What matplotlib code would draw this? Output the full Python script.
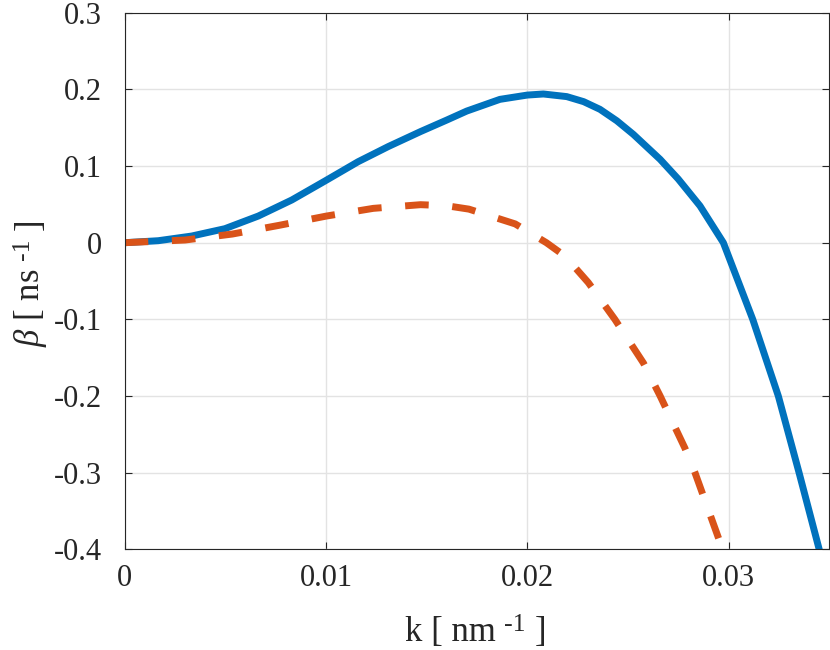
import matplotlib
matplotlib.use('Agg')
import matplotlib.pyplot as plt

# Datos (k en nm^-1, beta en ns^-1)
k_azul = [0.0, 0.00167, 0.00333, 0.00498, 0.00664, 0.0083, 0.00995, 0.0116,
          0.0131, 0.0147, 0.0160, 0.01699, 0.01864, 0.0200, 0.0208, 0.02196,
          0.0228, 0.02361, 0.02445, 0.02527, 0.0266, 0.0275, 0.02858, 0.02974,
          0.0312, 0.03247, 0.0335, 0.0345, 0.0350]
beta_azul = [0.0, 0.0026, 0.0087, 0.0183, 0.0348, 0.0557, 0.0805, 0.1057,
             0.1255, 0.145, 0.160, 0.1717, 0.187, 0.1926, 0.194, 0.1906,
             0.184, 0.174, 0.159, 0.1413, 0.1087, 0.083, 0.048, 0.0,
             -0.100, -0.200, -0.300, -0.400, -0.45]

k_naranja = [0.0, 0.0030, 0.00535, 0.00768, 0.01003, 0.01235, 0.0147, 0.0160,
             0.0171, 0.0194, 0.02095, 0.02187, 0.02303, 0.02435, 0.02577,
             0.0266, 0.02783, 0.02833, 0.0297, 0.0300]
beta_naranja = [0.0, 0.0035, 0.0113, 0.0227, 0.0348, 0.0448, 0.0496, 0.0482,
                0.0438, 0.0245, 0.0, -0.0174, -0.052, -0.100, -0.157,
                -0.200, -0.268, -0.300, -0.400, -0.425]

xticks = [0, 0.01, 0.02, 0.03]
xtick_labels = ['0', '0.01', '0.02', '0.03']
yticks = [-0.4, -0.3, -0.2, -0.1, 0, 0.1, 0.2, 0.3]
ytick_labels = ['-0.4', '-0.3', '-0.2', '-0.1', '0', '0.1', '0.2', '0.3']

plt.rcParams['font.family'] = ['Liberation Serif', 'DejaVu Serif']
plt.rcParams['mathtext.fontset'] = 'custom'
plt.rcParams['mathtext.rm'] = 'Liberation Serif'
plt.rcParams['mathtext.it'] = 'Liberation Serif:italic'
plt.rcParams['axes.unicode_minus'] = False

W, H = 830, 650
fig = plt.figure(figsize=(W / 100, H / 100), dpi=100)
ax = fig.add_axes([0.1502, 0.1549, 0.8489, 0.8255])

ax.plot(k_azul, beta_azul, color='#0072BD', linewidth=5,
        solid_capstyle='butt', solid_joinstyle='round')
ax.plot(k_naranja, beta_naranja, color='#D95319', linewidth=5,
        linestyle=(0, (3.4, 3.4)), dash_capstyle='butt', dash_joinstyle='round')

ax.set_xlim(0, 0.035)
ax.set_ylim(-0.4, 0.3)
ax.set_xticks(xticks)
ax.set_xticklabels(xtick_labels)
ax.set_yticks(yticks)
ax.set_yticklabels(ytick_labels)

ax.grid(True, color='#e3e3e3', linewidth=1)
ax.set_axisbelow(True)
ax.tick_params(direction='in', length=5, width=0.8, colors='#262626',
               labelsize=22, top=True, right=True)
ax.tick_params(axis='x', pad=10.5)
ax.tick_params(axis='y', pad=16.5)
for s in ax.spines.values():
    s.set_color('#262626')
    s.set_linewidth(0.8)

# etiquetas con superindice estilo MATLAB (armadas por piezas, en pixeles)
r = fig.canvas.get_renderer()
fs, fs_sup = 25, 18.5
esp = 0.25 * fs / 72 * 100   # ancho de un espacio
sube = 10                    # elevacion del superindice
col = '#262626'

def ancho(t, vertical=False):
    bb = t.get_window_extent(r)
    return bb.height if vertical else bb.width

# eje x: "k [ nm -1 ]"
x0, yb = 405, 641
t = fig.text(x0 / W, 1 - yb / H, 'k [ nm', fontsize=fs, color=col,
             ha='left', va='baseline')
x0 += ancho(t) + esp
t = fig.text(x0 / W, 1 - (yb - sube) / H, '-1', fontsize=fs_sup, color=col,
             ha='left', va='baseline')
x0 += ancho(t) + esp
fig.text(x0 / W, 1 - yb / H, ']', fontsize=fs, color=col, ha='left', va='baseline')

# eje y: "beta [ ns -1 ]" rotado
xb, y0 = 39, 347
t = fig.text(xb / W, 1 - y0 / H, r'$\beta$ [ ns', fontsize=fs, color=col,
             rotation=90, rotation_mode='anchor', ha='left', va='baseline')
y0 -= ancho(t, True) + esp
t = fig.text((xb - sube) / W, 1 - y0 / H, '-1', fontsize=fs_sup, color=col,
             rotation=90, rotation_mode='anchor', ha='left', va='baseline')
y0 -= ancho(t, True) + esp
fig.text(xb / W, 1 - y0 / H, ']', fontsize=fs, color=col,
         rotation=90, rotation_mode='anchor', ha='left', va='baseline')

fig.savefig('out.png', dpi=100)
